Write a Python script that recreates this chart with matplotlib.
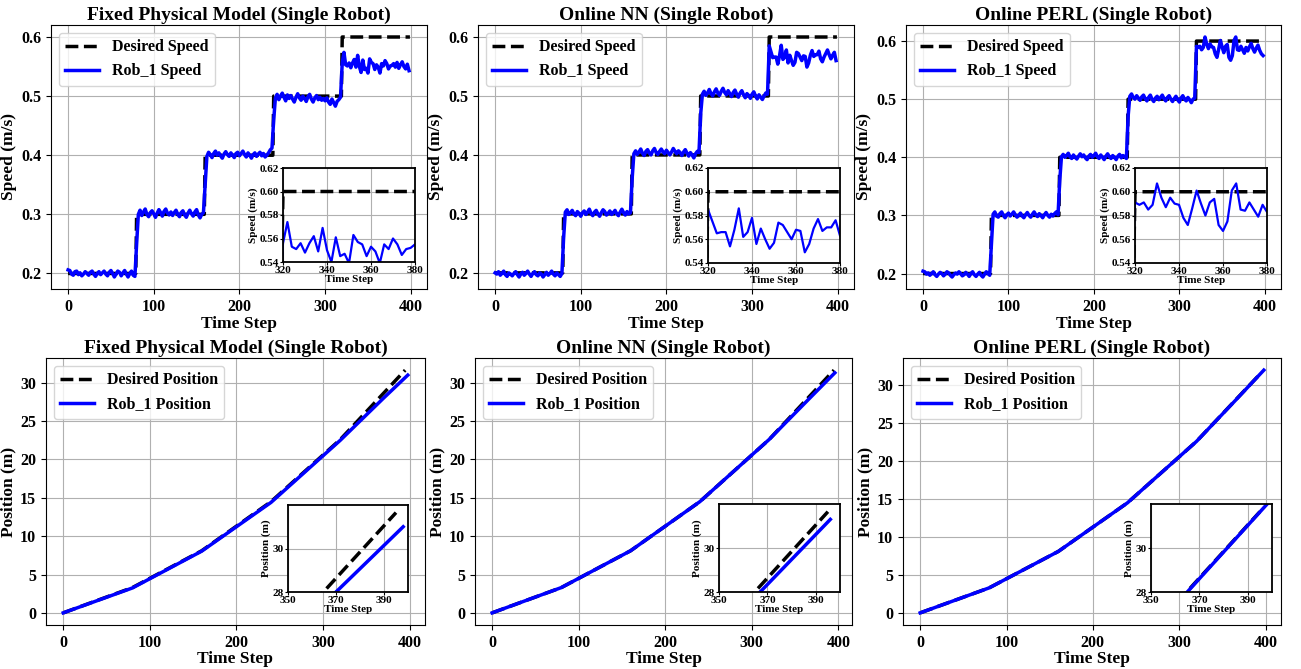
import numpy as np
import matplotlib
matplotlib.use("Agg")
import matplotlib.pyplot as plt

plt.rcParams['font.family'] = ['Liberation Serif', 'DejaVu Serif']
plt.rcParams['font.weight'] = 'bold'
plt.rcParams['axes.labelweight'] = 'bold'
plt.rcParams['axes.titleweight'] = 'bold'

titles = ['Fixed Physical Model (Single Robot)', 'Online NN (Single Robot)', 'Online PERL (Single Robot)']

# desired speed levels, each held for 80 steps
desired_levels = [0.2, 0.3, 0.4, 0.5, 0.6]
segment_len = 80
speed_steps = np.arange(0, 400, 2)

fixed_speed = [
    0.206, 0.205, 0.199, 0.197, 0.203, 0.204, 0.198, 0.201, 0.196, 0.199,
    0.203, 0.200, 0.197, 0.202, 0.204, 0.199, 0.195, 0.200, 0.203, 0.198,
    0.201, 0.204, 0.199, 0.196, 0.202, 0.205, 0.200, 0.194, 0.199, 0.204,
    0.202, 0.196, 0.201, 0.205, 0.199, 0.194, 0.200, 0.204, 0.197, 0.195,
    0.250, 0.300, 0.307, 0.298, 0.304, 0.309, 0.300, 0.296, 0.303, 0.306,
    0.301, 0.295, 0.302, 0.308, 0.303, 0.297, 0.305, 0.309, 0.302, 0.299,
    0.304, 0.298, 0.303, 0.307, 0.300, 0.296, 0.303, 0.306, 0.299, 0.295,
    0.302, 0.307, 0.301, 0.297, 0.304, 0.308, 0.299, 0.294, 0.300, 0.303,
    0.350, 0.398, 0.405, 0.401, 0.396, 0.403, 0.407, 0.400, 0.404, 0.399,
    0.395, 0.402, 0.406, 0.401, 0.398, 0.404, 0.400, 0.396, 0.403, 0.405,
    0.399, 0.403, 0.407, 0.401, 0.397, 0.404, 0.400, 0.395, 0.401, 0.404,
    0.398, 0.402, 0.405, 0.399, 0.403, 0.397, 0.400, 0.404, 0.409, 0.412,
    0.460, 0.497, 0.503, 0.494, 0.500, 0.505, 0.498, 0.492, 0.502, 0.496,
    0.501, 0.495, 0.490, 0.498, 0.504, 0.497, 0.493, 0.500, 0.496, 0.491,
    0.499, 0.503, 0.495, 0.490, 0.497, 0.501, 0.494, 0.498, 0.493, 0.496,
    0.492, 0.497, 0.490, 0.486, 0.495, 0.489, 0.483, 0.491, 0.494, 0.498,
    0.556, 0.574, 0.553, 0.551, 0.556, 0.548, 0.556, 0.562, 0.549, 0.569,
    0.550, 0.540, 0.561, 0.545, 0.547, 0.539, 0.563, 0.557, 0.555, 0.545,
    0.553, 0.549, 0.539, 0.555, 0.551, 0.560, 0.555, 0.546, 0.551, 0.552,
    0.555, 0.549, 0.557, 0.547, 0.553, 0.558, 0.550, 0.546, 0.554, 0.543,
]

nn_speed = [
    0.200, 0.198, 0.202, 0.196, 0.199, 0.203, 0.197, 0.194, 0.200, 0.198,
    0.195, 0.199, 0.202, 0.197, 0.193, 0.198, 0.201, 0.196, 0.199, 0.203,
    0.198, 0.194, 0.199, 0.202, 0.197, 0.195, 0.200, 0.198, 0.193, 0.197,
    0.201, 0.196, 0.199, 0.203, 0.198, 0.195, 0.200, 0.197, 0.194, 0.199,
    0.260, 0.303, 0.307, 0.299, 0.302, 0.306, 0.300, 0.297, 0.304, 0.301,
    0.296, 0.302, 0.305, 0.299, 0.303, 0.308, 0.301, 0.297, 0.303, 0.306,
    0.300, 0.296, 0.302, 0.307, 0.304, 0.298, 0.301, 0.305, 0.299, 0.302,
    0.306, 0.300, 0.297, 0.303, 0.308, 0.302, 0.298, 0.304, 0.300, 0.302,
    0.360, 0.402, 0.407, 0.401, 0.405, 0.410, 0.403, 0.399, 0.406, 0.409,
    0.403, 0.400, 0.407, 0.411, 0.404, 0.401, 0.406, 0.410, 0.405, 0.402,
    0.408, 0.404, 0.400, 0.405, 0.411, 0.406, 0.402, 0.407, 0.404, 0.399,
    0.405, 0.409, 0.403, 0.398, 0.404, 0.400, 0.395, 0.402, 0.406, 0.404,
    0.470, 0.503, 0.508, 0.501, 0.505, 0.511, 0.504, 0.500, 0.507, 0.512,
    0.505, 0.501, 0.508, 0.513, 0.506, 0.502, 0.509, 0.504, 0.499, 0.506,
    0.510, 0.503, 0.498, 0.505, 0.509, 0.502, 0.497, 0.504, 0.501, 0.496,
    0.503, 0.507, 0.500, 0.495, 0.502, 0.498, 0.494, 0.500, 0.505, 0.503,
    0.585, 0.575, 0.565, 0.566, 0.566, 0.554, 0.568, 0.586, 0.562, 0.566,
    0.578, 0.556, 0.569, 0.560, 0.552, 0.557, 0.574, 0.572, 0.566, 0.560,
    0.568, 0.567, 0.549, 0.556, 0.569, 0.577, 0.567, 0.570, 0.570, 0.576,
    0.563, 0.558, 0.566, 0.572, 0.578, 0.570, 0.563, 0.569, 0.574, 0.560,
]

perl_speed = [
    0.204, 0.203, 0.199, 0.201, 0.197, 0.200, 0.203, 0.198, 0.195, 0.199,
    0.202, 0.200, 0.196, 0.199, 0.203, 0.201, 0.197, 0.194, 0.198, 0.201,
    0.199, 0.203, 0.200, 0.196, 0.198, 0.202, 0.199, 0.195, 0.200, 0.203,
    0.198, 0.195, 0.199, 0.202, 0.197, 0.194, 0.199, 0.203, 0.200, 0.197,
    0.250, 0.302, 0.306, 0.299, 0.297, 0.303, 0.306, 0.300, 0.296, 0.301,
    0.304, 0.299, 0.302, 0.306, 0.301, 0.297, 0.300, 0.304, 0.299, 0.296,
    0.301, 0.305, 0.300, 0.297, 0.302, 0.306, 0.301, 0.298, 0.303, 0.300,
    0.296, 0.301, 0.305, 0.300, 0.297, 0.302, 0.299, 0.303, 0.306, 0.301,
    0.360, 0.401, 0.405, 0.400, 0.403, 0.407, 0.401, 0.398, 0.404, 0.400,
    0.397, 0.402, 0.406, 0.401, 0.404, 0.399, 0.396, 0.402, 0.405, 0.400,
    0.403, 0.407, 0.401, 0.398, 0.404, 0.400, 0.396, 0.402, 0.406, 0.401,
    0.398, 0.403, 0.400, 0.396, 0.402, 0.405, 0.399, 0.403, 0.401, 0.398,
    0.470, 0.505, 0.509, 0.503, 0.500, 0.506, 0.502, 0.498, 0.504, 0.507,
    0.501, 0.497, 0.503, 0.507, 0.500, 0.496, 0.502, 0.505, 0.499, 0.503,
    0.507, 0.501, 0.497, 0.503, 0.506, 0.500, 0.496, 0.501, 0.505, 0.499,
    0.495, 0.502, 0.506, 0.500, 0.497, 0.503, 0.499, 0.494, 0.500, 0.502,
    0.591, 0.589, 0.591, 0.585, 0.589, 0.607, 0.595, 0.587, 0.595, 0.590,
    0.589, 0.578, 0.572, 0.586, 0.601, 0.590, 0.580, 0.591, 0.594, 0.572,
    0.567, 0.575, 0.601, 0.607, 0.585, 0.584, 0.591, 0.585, 0.579, 0.589,
    0.583, 0.590, 0.596, 0.587, 0.581, 0.588, 0.593, 0.584, 0.578, 0.575,
]

# positions (m) at the corners of the position curves
desired_pos_steps = [0, 80, 160, 240, 320, 395]
desired_pos = [0.0, 3.3, 8.1, 14.5, 22.6, 31.65]
fixed_pos_steps = [0, 80, 160, 240, 320, 370, 398]
fixed_pos = [0.0, 3.25, 8.05, 14.4, 22.5, 28.0, 31.0]
nn_pos_steps = [0, 80, 160, 240, 320, 367, 396]
nn_pos = [0.0, 3.3, 8.1, 14.5, 22.6, 28.0, 31.3]
perl_pos_steps = [0, 80, 160, 240, 320, 365, 398]
perl_pos = [0.0, 3.3, 8.1, 14.5, 22.6, 28.0, 32.0]

desired_speed = np.repeat(desired_levels, segment_len)
desired_steps = np.arange(len(desired_speed))

speeds = [fixed_speed, nn_speed, perl_speed]
positions = [(fixed_pos_steps, fixed_pos), (nn_pos_steps, nn_pos), (perl_pos_steps, perl_pos)]

W, H = 1301, 669
fig = plt.figure(figsize=(W / 100, H / 100), dpi=100)


def px_axes(l, t, r, b):
    return fig.add_axes([l / W, 1 - b / H, (r - l) / W, (b - t) / H])


top_boxes = [(51, 25, 427, 289), (478, 25, 854, 289), (906, 25, 1281, 289)]
bot_boxes = [(46, 358, 425, 625), (475, 358, 852, 625), (903, 358, 1281, 625)]
top_insets = [(283, 168, 415, 262), (708, 168, 840, 263), (1135, 168, 1267, 263)]
bot_insets = [(288, 505, 408, 592), (719, 504, 840, 592), (1151, 504, 1272, 592)]

for i in range(3):
    # speed panel
    ax = px_axes(*top_boxes[i])
    ax.plot(desired_steps, desired_speed, 'k--', lw=2.5, label='Desired Speed')
    ax.plot(speed_steps, speeds[i], color='blue', lw=2.5, label='Rob_1 Speed')
    ax.set_title(titles[i], fontsize=14, pad=4)
    ax.set_xlabel('Time Step', fontsize=12.5, labelpad=1)
    ax.set_ylabel('Speed (m/s)', fontsize=12.5, labelpad=3)
    ax.tick_params(labelsize=11.5)
    ax.set_xticks([0, 100, 200, 300, 400])
    ax.set_yticks([0.2, 0.3, 0.4, 0.5, 0.6])
    ax.grid(True)
    ax.legend(loc='upper left', fontsize=11.5, handlelength=2.1)

    ins = px_axes(*top_insets[i])
    ins.plot(desired_steps, desired_speed, 'k--', lw=2.5)
    ins.plot(speed_steps, speeds[i], color='blue', lw=1.6)
    ins.set_xlim(320, 380)
    ins.set_ylim(0.54, 0.62)
    ins.set_xticks([320, 340, 360, 380])
    ins.set_yticks([0.54, 0.56, 0.58, 0.60, 0.62])
    ins.set_yticklabels(['0.54', '0.56', '0.58', '0.60', '0.62'])
    ins.tick_params(labelsize=8, length=2, pad=1)
    ins.set_xlabel('Time Step', fontsize=8, labelpad=0)
    ins.set_ylabel('Speed (m/s)', fontsize=8, labelpad=1)
    ins.grid(True)
    for s in ins.spines.values():
        s.set_linewidth(1.3)

    # position panel
    ax = px_axes(*bot_boxes[i])
    ax.plot(desired_pos_steps, desired_pos, 'k--', lw=2.5, label='Desired Position')
    ax.plot(positions[i][0], positions[i][1], color='blue', lw=2.5, label='Rob_1 Position')
    ax.set_title(titles[i], fontsize=14, pad=4)
    ax.set_xlabel('Time Step', fontsize=12.5, labelpad=0)
    ax.set_ylabel('Position (m)', fontsize=12.5, labelpad=3)
    ax.tick_params(labelsize=11.5)
    ax.set_xticks([0, 100, 200, 300, 400])
    ax.set_yticks([0, 5, 10, 15, 20, 25, 30])
    ax.grid(True)
    ax.legend(loc='upper left', fontsize=11.5, handlelength=2.1)

    ins = px_axes(*bot_insets[i])
    ins.plot(desired_pos_steps, desired_pos, 'k--', lw=2.5)
    ins.plot(positions[i][0], positions[i][1], color='blue', lw=2.5)
    ins.set_xlim(350, 400)
    ins.set_ylim(28, 32)
    ins.set_xticks([350, 370, 390])
    ins.set_yticks([28, 30])
    ins.tick_params(labelsize=8, length=2, pad=1)
    ins.set_xlabel('Time Step', fontsize=8, labelpad=0)
    ins.set_ylabel('Position (m)', fontsize=8, labelpad=1)
    ins.grid(True)
    for s in ins.spines.values():
        s.set_linewidth(1.3)

fig.savefig('out.png', dpi=100)
